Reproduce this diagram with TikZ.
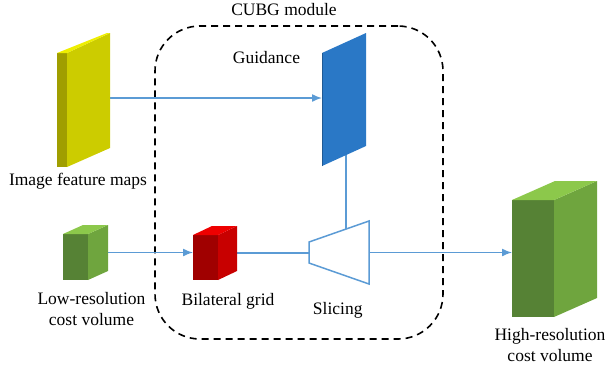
\documentclass[tikz,border=0pt]{standalone}
\usepackage{fontspec}
\setmainfont{Liberation Serif}
\usepackage{tikz}
\usetikzlibrary{shapes,arrows,arrows.meta}
\definecolor{lineblue}{HTML}{5B9BD5}
\definecolor{yfront}{HTML}{CCCC00}
\definecolor{yside}{HTML}{A09E00}
\definecolor{ytop}{HTML}{EEEE00}
\definecolor{guideblue}{HTML}{2A78C6}
\definecolor{gfront}{HTML}{568235}
\definecolor{gside}{HTML}{6FA53E}
\definecolor{gtop}{HTML}{8CC84B}
\definecolor{rfront}{HTML}{A00000}
\definecolor{rside}{HTML}{C80000}
\definecolor{rtop}{HTML}{EE0000}
\tikzstyle{box}=[rectangle, inner sep=0pt, outer sep=0pt]
\tikzstyle{txt}=[font=\fontsize{17.5}{21}\selectfont, inner sep=0pt, anchor=base, align=center]
\tikzstyle{module}=[rectangle, draw, line width=1.6pt, dash pattern=on 7pt off 5pt,
                    rounded corners=45pt, inner sep=0pt]
\tikzstyle{line}=[draw=lineblue, line width=1.5pt, -{Latex[length=10pt,width=8pt]}]
\tikzstyle{wire}=[draw=lineblue, line width=1.5pt]
\tikzstyle{slicer}=[draw=lineblue, fill=white, line width=1.5pt]

\begin{document}
\begin{tikzpicture}[x=1pt, y=-1pt]
    \useasboundingbox (0,0) rectangle (609,368);
    \node [module, minimum width=288pt, minimum height=313pt] at (299,182.5) (cubg) {};
    \node [txt] at (284,15)    (cubgtxt)  {CUBG module};
    \node [txt] at (266.5,63)  (guidetxt) {Guidance};
    \node [txt] at (78,185.5)  (ifmtxt)   {Image feature maps};
    \node [txt] at (91.5,325)  (lowtxt)   {Low-resolution\\cost volume};
    \node [txt] at (228,305)   (bgtxt)    {Bilateral grid};
    \node [txt] at (337.7,314) (slicetxt) {Slicing};
    \node [txt] at (550,361)   (hightxt)  {High-resolution\\cost volume};
    \node [box, minimum width=53pt, minimum height=134pt] at (83.5,100)  (ifm)     {};
    \node [box, minimum width=44pt, minimum height=133pt] at (344,99.5)  (guide)   {};
    \node [box, minimum width=45pt, minimum height=55pt]  at (85.5,252.5) (lowcv)  {};
    \node [box, minimum width=44pt, minimum height=54pt]  at (215,253)   (bgrid)   {};
    \node [box, minimum width=60pt, minimum height=63pt]  at (339,252.5) (slicing) {};
    \node [box, minimum width=85pt, minimum height=136pt] at (554.5,249) (highcv)  {};
    % connectors first, shapes on top
    \path [line] ([yshift=2pt]ifm.east) -- ([yshift=2pt]ifm.east -| guide.west);
    \path [wire] ([xshift=2pt]guide.center) -- ([xshift=2pt]guide.center |- slicing.center);
    \path [line] (lowcv.east) -- (lowcv.east -| bgrid.west);
    \path [wire] (bgrid.east) -- (bgrid.east -| slicing.west);
    \path [line] (slicing.east) -- (slicing.east -| highcv.west);
    % image feature maps
    \fill [yside]  (ifm.south west) rectangle ++(10,-114);
    \fill [yfront] ([xshift=10pt]ifm.south west) -- (ifm.south east |- 0,148) -- (ifm.north east) -- ++(-43,20) -- cycle;
    \fill [ytop]   (ifm.north east) -- ++(-3,0) -- ++(-50,20) -- ++(10,0) -- cycle;
    % guidance
    \fill [guideblue] (guide.south west) -- (guide.south east |- 0,146) -- (guide.north east) -- ++(-44,20) -- cycle;
    \draw [guideblue!75!black, line width=0.6pt] (guide.south west) -- ++(0,-113);
    % low-resolution cost volume
    \fill [gfront] (lowcv.south west) rectangle ++(25,-46);
    \fill [gside]  ([xshift=25pt]lowcv.south west) -- ++(20,-9) -- (lowcv.north east) -- ++(-20,9) -- cycle;
    \fill [gtop]   (lowcv.north east) -- ++(-25,0) -- ++(-20,9) -- ++(25,0) -- cycle;
    % bilateral grid
    \fill [rfront] (bgrid.south west) rectangle ++(25,-45);
    \fill [rside]  ([xshift=25pt]bgrid.south west) -- ++(19,-9) -- (bgrid.north east) -- ++(-19,9) -- cycle;
    \fill [rtop]   (bgrid.north east) -- ++(-25,0) -- ++(-19,9) -- ++(25,0) -- cycle;
    % slicing
    \filldraw [slicer] ([yshift=10.5pt]slicing.west) -- (slicing.north east) -- (slicing.south east) -- ([yshift=-10.5pt]slicing.west) -- cycle;
    % high-resolution cost volume
    \fill [gfront] (highcv.south west) rectangle ++(42,-117);
    \fill [gside]  ([xshift=42pt]highcv.south west) -- ++(43,-19) -- (highcv.north east) -- ++(-43,19) -- cycle;
    \fill [gtop]   (highcv.north east) -- ++(-42,0) -- ++(-43,19) -- ++(42,0) -- cycle;
\end{tikzpicture}
\end{document}
